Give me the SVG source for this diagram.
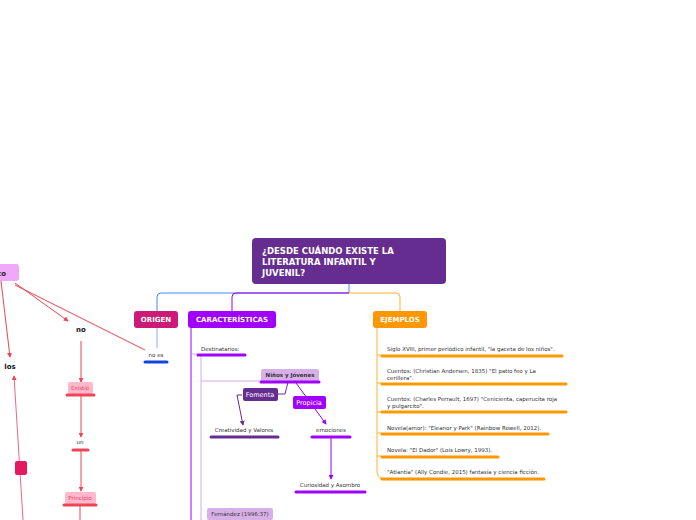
<svg xmlns="http://www.w3.org/2000/svg" width="696" height="520" viewBox="0 0 696 520">
<defs>
<style>
text{font-family:"DejaVu Sans","Liberation Sans",sans-serif}
.s{font-size:5.5px;fill:#333}
.b{font-size:7px;font-weight:bold;fill:#fff}
.u{stroke-width:3;stroke-linecap:round}
.c{fill:none;stroke-width:1}
</style>
<marker id="ar" viewBox="0 0 6 6" refX="5" refY="3" markerWidth="5" markerHeight="5" orient="auto"><path d="M0,0L6,3L0,6z" fill="#ee4455"/></marker>
<marker id="ap" viewBox="0 0 6 6" refX="5" refY="3" markerWidth="5" markerHeight="5" orient="auto"><path d="M0,0L6,3L0,6z" fill="#9b00f0"/></marker>
<marker id="ad" viewBox="0 0 6 6" refX="5" refY="3" markerWidth="5" markerHeight="5" orient="auto"><path d="M0,0L6,3L0,6z" fill="#6a2c91"/></marker>
</defs>
<rect width="696" height="520" fill="#fff"/>
<g id="connectors">
<path class="c" stroke="#4488ff" d="M349,284V293H161Q157,293 157,297V311"/>
<path class="c" stroke="#9b00f0" d="M232,311V297Q232,293 236,293H349"/>
<path class="c" stroke="#ffb030" d="M349,293H396Q400,293 400,297V311"/>
<path class="c" stroke="#88aaff" d="M157,328V348"/>
<path class="c" stroke="#9b00f0" d="M191,328V520"/>
<path class="c" stroke="#d8a8f0" d="M192,354H197M201,354V520M201,381H262"/>
<path class="c" stroke="#ffb030" d="M377,328V470Q377,478 382,478M377,355H382M377,383H382M377,412H382M377,433H382M377,456H382"/>
<path class="c" stroke="#6a2c91" d="M288,382L285,394H275M242,395H237L243,425" marker-end="url(#ad)"/>
<path class="c" stroke="#9b00f0" d="M296,383L326,424" marker-end="url(#ap)"/>
<path class="c" stroke="#9b00f0" d="M331,437V479" marker-end="url(#ap)"/>
<path class="c" stroke="#ee4455" d="M1,281L10,357" marker-end="url(#ar)"/>
<path class="c" stroke="#ee4455" d="M15,283L68,321" marker-end="url(#ar)"/>
<path class="c" stroke="#ee4455" d="M15,285L145,350"/>
<path class="c" stroke="#ee4455" d="M81,341V382" marker-end="url(#ar)"/>
<path class="c" stroke="#ee4455" d="M81,395V437" marker-end="url(#ar)"/>
<path class="c" stroke="#ee4455" d="M81,450V491" marker-end="url(#ar)"/>
<path class="c" stroke="#ee4455" d="M80,506V520"/>
<path class="c" stroke="#ee6688" d="M23,520L14,376" marker-end="url(#ar)"/>
</g>
<g id="title"><rect x="252" y="238" width="194" height="46" rx="4" fill="#662d91"/><text x="262" y="254" class="b" font-size="8.5" style="font-size:8.5px">¿DESDE CUÁNDO EXISTE LA</text><text x="262" y="265" class="b" style="font-size:8.5px">LITERATURA INFANTIL Y</text><text x="262" y="276" class="b" style="font-size:8.5px">JUVENIL?</text></g>
<g id="origen"><rect x="134" y="311" width="44" height="17" rx="3" fill="#cc1a77"/><text x="156" y="322" class="b" text-anchor="middle">ORIGEN</text></g>
<g id="caracteristicas"><rect x="188" y="311" width="88" height="17" rx="3" fill="#a000ff"/><text x="232" y="322" class="b" text-anchor="middle">CARACTERÍSTICAS</text></g>
<g id="ejemplos"><rect x="373" y="311" width="54" height="17" rx="3" fill="#ff9800"/><text x="400" y="322" class="b" text-anchor="middle">EJEMPLOS</text></g>
<g id="noes"><text x="156" y="357" class="s" text-anchor="middle">no es</text><line class="u" x1="145" y1="362" x2="167" y2="362" stroke="#1144dd"/></g>
<g id="destinatarios"><text x="201" y="351" class="s">Destinatarios:</text><line class="u" x1="198" y1="355" x2="245" y2="355" stroke="#a000ff"/></g>
<g id="ninos"><rect x="261" y="369" width="58" height="13" rx="2" fill="#d8b0e8"/><text x="290" y="377" class="s" text-anchor="middle" font-weight="bold">Niños y Jóvenes</text><line class="u" x1="261" y1="382" x2="319" y2="382" stroke="#a000ff"/></g>
<g id="fomenta"><rect x="243" y="388" width="35" height="13" rx="2" fill="#662d91"/><text x="260" y="397" text-anchor="middle" style="font-size:6.5px;fill:#fff">Fomenta</text></g>
<g id="propicia"><rect x="293" y="396" width="33" height="13" rx="2" fill="#a000ff"/><text x="309" y="405" text-anchor="middle" style="font-size:6.5px;fill:#fff">Propicia</text></g>
<g id="creatividad"><text x="244" y="432" class="s" text-anchor="middle">Creatividad y Valores</text><line class="u" x1="211" y1="437" x2="278" y2="437" stroke="#662d91"/></g>
<g id="emociones"><text x="331" y="432" class="s" text-anchor="middle">emociones</text><line class="u" x1="312" y1="437" x2="350" y2="437" stroke="#a000ff"/></g>
<g id="curiosidad"><text x="330" y="487" class="s" text-anchor="middle">Curiosidad y Asombro</text><line class="u" x1="296" y1="492" x2="365" y2="492" stroke="#a000ff"/></g>
<g id="fernandez"><rect x="207" y="508" width="66" height="12" rx="2" fill="#d8b0e8"/><text x="240" y="516" class="s" text-anchor="middle">Fernández (1996:37)</text></g>
<g id="ej1"><text x="387" y="351" class="s">Siglo XVIII, primer periódico infantil, "la gaceta de los niños".</text><line class="u" x1="382" y1="356" x2="562" y2="356" stroke="#ff9800"/></g>
<g id="ej2"><text x="387" y="373" class="s">Cuentos: (Christian Andersen, 1835) "El patio feo y  La</text><text x="387" y="380" class="s">cerillera".</text><line class="u" x1="382" y1="384" x2="566" y2="384" stroke="#ff9800"/></g>
<g id="ej3"><text x="387" y="401" class="s">Cuentos: (Charles Perrault, 1697) "Cenicienta, caperucita roja</text><text x="387" y="408" class="s">y pulgarcito".</text><line class="u" x1="382" y1="412" x2="566" y2="412" stroke="#ff9800"/></g>
<g id="ej4"><text x="387" y="430" class="s">Novela(amor): "Eleanor y Park" (Rainbow Rowell, 2012).</text><line class="u" x1="382" y1="434" x2="548" y2="434" stroke="#ff9800"/></g>
<g id="ej5"><text x="387" y="452" class="s">Novela: "El Dador" (Lois Lowry, 1993).</text><line class="u" x1="382" y1="457" x2="498" y2="457" stroke="#ff9800"/></g>
<g id="ej6"><text x="387" y="474" class="s">"Atlantia" (Ally Condie, 2015) fantasía y ciencia ficción.</text><line class="u" x1="382" y1="479" x2="544" y2="479" stroke="#ff9800"/></g>
<g id="cto"><rect x="-10" y="264" width="29" height="17" rx="3" fill="#f0a8f8"/><text x="6" y="276" text-anchor="end" style="font-size:7px;font-weight:bold;fill:#222">cto</text></g>
<g id="no"><text x="81" y="332" text-anchor="middle" style="font-size:7px;font-weight:bold;fill:#111">no</text></g>
<g id="los"><text x="10" y="369" text-anchor="middle" style="font-size:7px;font-weight:bold;fill:#111">los</text></g>
<g id="existio"><rect x="68" y="382" width="25" height="12" rx="2" fill="#ffb8cc"/><text x="80" y="390" class="s" text-anchor="middle" fill="#ee4466" style="fill:#ee4466">Existió</text><line class="u" x1="67" y1="395" x2="94" y2="395" stroke="#ee4455"/></g>
<g id="un"><text x="80" y="444" class="s" text-anchor="middle">un</text><line class="u" x1="73" y1="450" x2="88" y2="450" stroke="#ee4455"/></g>
<g id="principio"><rect x="65" y="492" width="31" height="12" rx="2" fill="#ffb8cc"/><text x="80" y="500" class="s" text-anchor="middle" style="fill:#ee4466">Principio</text><line class="u" x1="64" y1="505" x2="96" y2="505" stroke="#ee4455"/></g>
<g id="pinkbox"><rect x="15" y="461" width="12" height="14" rx="2" fill="#e8185e"/></g>
</svg>
